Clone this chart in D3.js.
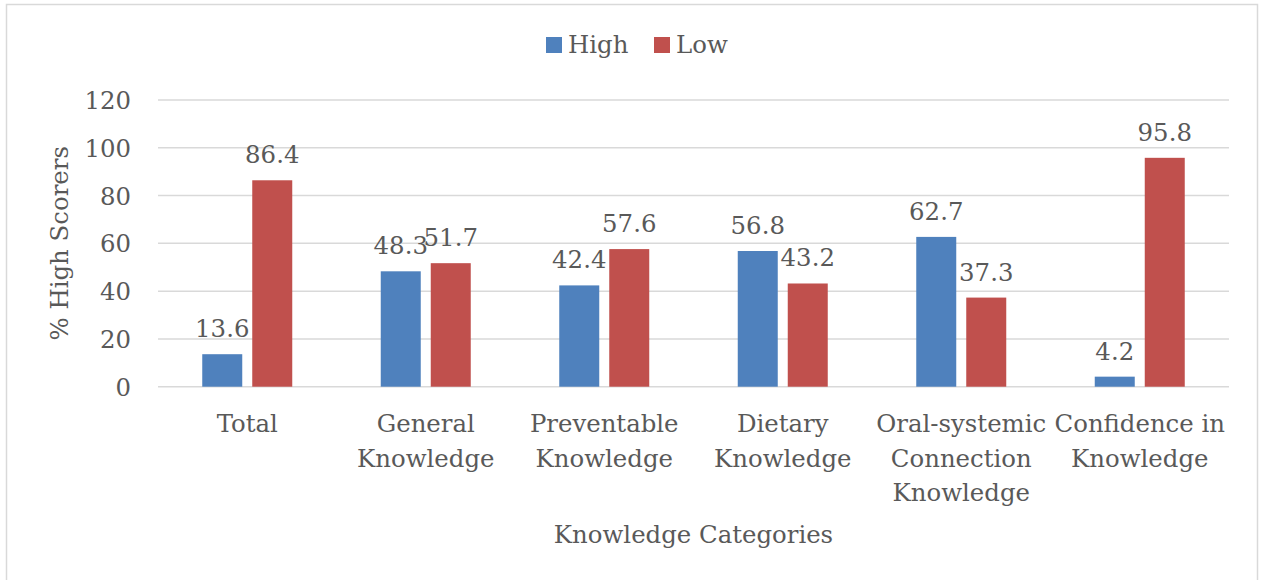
<!DOCTYPE html>
<html><head><meta charset="utf-8">
<script src="https://cdn.jsdelivr.net/npm/d3@7"></script>
<style>body{margin:0;background:#fff;} svg{display:block;}</style>
</head><body>
<svg id="c" width="1261" height="580"></svg>
<script>
const categories = ["Total", "General\nKnowledge", "Preventable\nKnowledge", "Dietary\nKnowledge", "Oral-systemic\nConnection\nKnowledge", "Confidence in\nKnowledge"];
const seriesNames = ["High", "Low"];
const highValues = [13.6, 48.3, 42.4, 56.8, 62.7, 4.2];
const lowValues = [86.4, 51.7, 57.6, 43.2, 37.3, 95.8];
const yTicks = [0, 20, 40, 60, 80, 100, 120];
const colors = ["#4F81BD", "#C0504D"];

const svg = d3.select("#c");
const font = "DejaVu Serif";
const txt = "#595959";
const grid = "#d9d9d9";
const fs = 24.4;

svg.append("rect").attr("x", 6.5).attr("y", 4.5).attr("width", 1251).attr("height", 600)
  .attr("fill", "none").attr("stroke", grid).attr("stroke-width", 1.5);

const x0 = d3.scaleBand().domain(categories).range([158, 1229]);
const y = d3.scaleLinear().domain([0, 120]).range([386.7, 100]);

const g = svg.append("g").attr("font-family", font).attr("fill", txt);

// grid
g.selectAll("line.grid").data(yTicks).join("line")
  .attr("x1", 158).attr("x2", 1229).attr("y1", d => y(d)).attr("y2", d => y(d))
  .attr("stroke", grid).attr("stroke-width", 1.5);

// y axis labels
const yAxis = d3.axisLeft(y).tickValues(yTicks).tickSize(0).tickPadding(0);
const ya = svg.append("g").attr("transform", "translate(131,0)").call(yAxis);
ya.select(".domain").remove();
ya.selectAll("text").attr("font-family", font).attr("font-size", fs).attr("fill", txt).attr("dy", "0.35em");

const data = categories.map((c, i) => ({c, vals: [highValues[i], lowValues[i]]}));
const barW = 40, gap = 10;
const groups = g.selectAll("g.cat").data(data).join("g")
  .attr("transform", d => `translate(${x0(d.c) + x0.bandwidth() / 2},0)`);
groups.each(function(d) {
  const sel = d3.select(this);
  d.vals.forEach((v, k) => {
    const bx = k === 0 ? -gap / 2 - barW : gap / 2;
    sel.append("rect").attr("x", bx).attr("y", y(v)).attr("width", barW).attr("height", y(0) - y(v))
      .attr("fill", colors[k]);
    sel.append("text").attr("x", bx + barW / 2).attr("y", y(v) - 17).attr("text-anchor", "middle")
      .attr("font-size", fs).text(v.toFixed(1));
  });
  d.c.split("\n").forEach((line, li) => {
    sel.append("text").attr("x", 0).attr("y", 432 + li * 34.5).attr("text-anchor", "middle")
      .attr("font-size", fs).text(line);
  });
});

// axis titles
g.append("text").attr("x", 693.5).attr("y", 543).attr("text-anchor", "middle").attr("font-size", fs).text("Knowledge Categories");
g.append("text").attr("transform", "translate(68,243.3) rotate(-90)").attr("text-anchor", "middle").attr("font-size", fs).text("% High Scorers");

// legend
const lg = g.append("g");
const legX = [546, 654];
seriesNames.forEach((s, k) => {
  lg.append("rect").attr("x", legX[k]).attr("y", 37).attr("width", 16).attr("height", 16).attr("fill", colors[k]);
  lg.append("text").attr("x", legX[k] + 22).attr("y", 53).attr("font-size", fs).text(s);
});
</script>
</body></html>
